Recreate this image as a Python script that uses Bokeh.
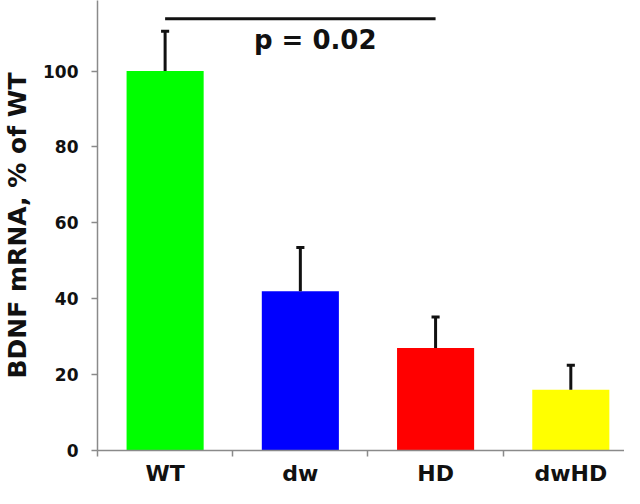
import numpy as np
from bokeh.plotting import figure
from bokeh.models import Range1d, FixedTicker, LinearAxis, ColumnDataSource
from bokeh.core.properties import value
from bokeh.embed import file_html
from bokeh.resources import INLINE

# ---- data ----
categories = ["WT", "dw", "HD", "dwHD"]
means = [100, 42, 27, 16]
errors = [10.5, 11.5, 8.2, 6.5]
bar_colors = ["#00ff00", "#0000ff", "#ff0000", "#ffff00"]
y_ticks = [0, 20, 40, 60, 80, 100]
y_label = "BDNF mRNA, % of WT"
p_text = "p = 0.02"
sig_from, sig_to = "WT", "HD"
sig_level = 113.8
p_text_level = 108.1

FONT = "DejaVu Sans"
AXIS_GREY = "#8a8a8a"
INK = "#111111"

n = len(categories)
xs = np.arange(1, n + 1)
upper = np.array(means) + np.array(errors)
cap_half = 0.03

src = ColumnDataSource(dict(
    x=xs, top=means, upper=upper, color=bar_colors,
    cl=xs - cap_half, cr=xs + cap_half,
))

p = figure(width=624, height=488, output_backend="svg", toolbar_location=None,
           x_range=Range1d(0.5, 4.397), y_range=Range1d(0, 118.6),
           x_axis_type=None, y_axis_type=None,
           min_border_left=92, min_border_right=0, min_border_top=0,
           min_border_bottom=36)
p.outline_line_color = None
p.background_fill_color = "white"
p.border_fill_color = "white"

# x axis: labels at category centres, ticks at boundaries (minor ticks)
xa = LinearAxis(ticker=FixedTicker(ticks=[int(v) for v in xs],
                                   minor_ticks=[float(v) - 0.5 for v in xs] + [n + 0.5]))
xa.major_label_overrides = {int(v): c for v, c in zip(xs, categories)}
xa.major_tick_out = 0
xa.major_tick_in = 0
xa.minor_tick_out = 6
xa.minor_tick_in = 0
xa.minor_tick_line_color = AXIS_GREY
xa.minor_tick_line_width = 1.5
xa.axis_line_color = AXIS_GREY
xa.axis_line_width = 1.5
xa.major_label_standoff = 4
xa.major_label_text_font = FONT
xa.major_label_text_font_style = "bold"
xa.major_label_text_font_size = "22px"
xa.major_label_text_color = INK
p.add_layout(xa, "below")

# y axis
ya = LinearAxis(ticker=FixedTicker(ticks=y_ticks, minor_ticks=[]))
ya.major_tick_out = 6
ya.major_tick_in = 0
ya.major_tick_line_color = AXIS_GREY
ya.major_tick_line_width = 1.5
ya.axis_line_color = AXIS_GREY
ya.axis_line_width = 1.5
ya.major_label_standoff = 13
ya.major_label_text_font = FONT
ya.major_label_text_font_style = "bold"
ya.major_label_text_font_size = "17px"
ya.major_label_text_color = INK
ya.axis_label = y_label
ya.axis_label_standoff = 8
ya.axis_label_text_font = FONT
ya.axis_label_text_font_style = "bold"
ya.axis_label_text_font_size = "25px"
ya.axis_label_text_color = INK
p.add_layout(ya, "left")

# bars
p.vbar(x="x", top="top", bottom=0, width=0.57, fill_color="color",
       line_color=None, source=src)

# error bars (upper only)
p.segment(x0="x", y0="top", x1="x", y1="upper", line_color=INK,
          line_width=3, source=src)
p.segment(x0="cl", y0="upper", x1="cr", y1="upper", line_color=INK,
          line_width=3, source=src)

# significance line and label
x_from = categories.index(sig_from) + 1
x_to = categories.index(sig_to) + 1
p.segment(x0=[x_from], y0=[sig_level], x1=[x_to], y1=[sig_level],
          line_color=INK, line_width=3)
p.text(x=[(x_from + x_to) / 2 + 0.11], y=[p_text_level], text=[p_text],
       text_align="center", text_baseline="alphabetic",
       text_font=value(FONT), text_font_style="bold",
       text_font_size="26px", text_color=INK)

open("out.html", "w").write(file_html(p, INLINE))
